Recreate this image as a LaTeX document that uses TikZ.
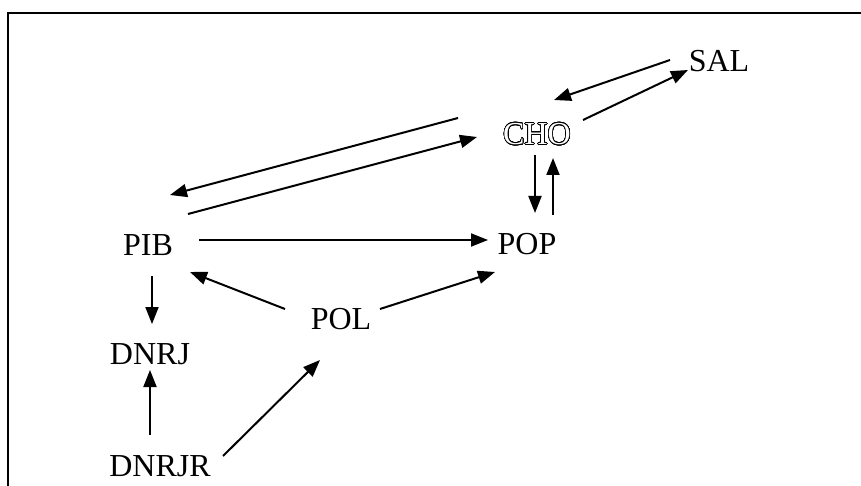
\documentclass[tikz,border=0pt]{standalone}
\usepackage{fontspec}
\setmainfont{Liberation Serif}
\usepackage{contour}
\contourlength{0.7pt}
\contournumber{32}
\usetikzlibrary{arrows.meta}
\begin{document}
\begin{tikzpicture}[x=1pt,y=-1pt,
  lbl/.style={inner sep=0pt,text height=21pt,text depth=0pt,font=\fontsize{32}{36}\selectfont},
  arr/.style={-{Triangle[length=17pt,width=13pt]},line width=2pt},
  frame/.style={line width=2pt}]
\useasboundingbox (0,0) rectangle (861,486);
\draw[frame] (7.7,486) -- (7.7,13) -- (861,13);
\node[lbl] (sal) at (719,61) {SAL};
\node[lbl] (cho) at (537,134) {\contour{black}{\textcolor{white}{CHO}}};
\node[lbl] (pib) at (148,245) {PIB};
\node[lbl] (pop) at (527,244) {POP};
\node[lbl] (pol) at (341,319) {POL};
\node[lbl] (dnrj) at (150,354) {DNRJ};
\node[lbl] (dnrjr) at (160,466) {DNRJR};
\draw[arr] ([shift={(-49,-1)}]sal.center) -- ([shift={(17,-34)}]cho.center);
\draw[arr] ([shift={(46,-14)}]cho.center) -- ([shift={(-31,9)}]sal.center);
\draw[arr] ([shift={(-2,21)}]cho.center) -- ([shift={(8,-31)}]pop.center);
\draw[arr] ([shift={(26,-29)}]pop.center) -- ([shift={(16,24)}]cho.center);
\draw[arr] ([shift={(-79,-16)}]cho.center) -- ([shift={(22,-50)}]pib.center);
\draw[arr] ([shift={(40,-31)}]pib.center) -- ([shift={(-60,3)}]cho.center);
\draw[arr] ([shift={(51,-5)}]pib.center) -- ([shift={(-39,-4)}]pop.center);
\draw[arr] ([shift={(39,-10)}]pol.center) -- ([shift={(-32,28)}]pop.center);
\draw[arr] ([shift={(-56,-10)}]pol.center) -- ([shift={(42,27)}]pib.center);
\draw[arr] ([shift={(4,31)}]pib.center) -- ([shift={(2,-30)}]dnrj.center);
\draw[arr] ([shift={(-10,-31)}]dnrjr.center) -- ([shift={(0,16)}]dnrj.center);
\draw[arr] ([shift={(63,-10)}]dnrjr.center) -- ([shift={(-21,41)}]pol.center);
\end{tikzpicture}
\end{document}
